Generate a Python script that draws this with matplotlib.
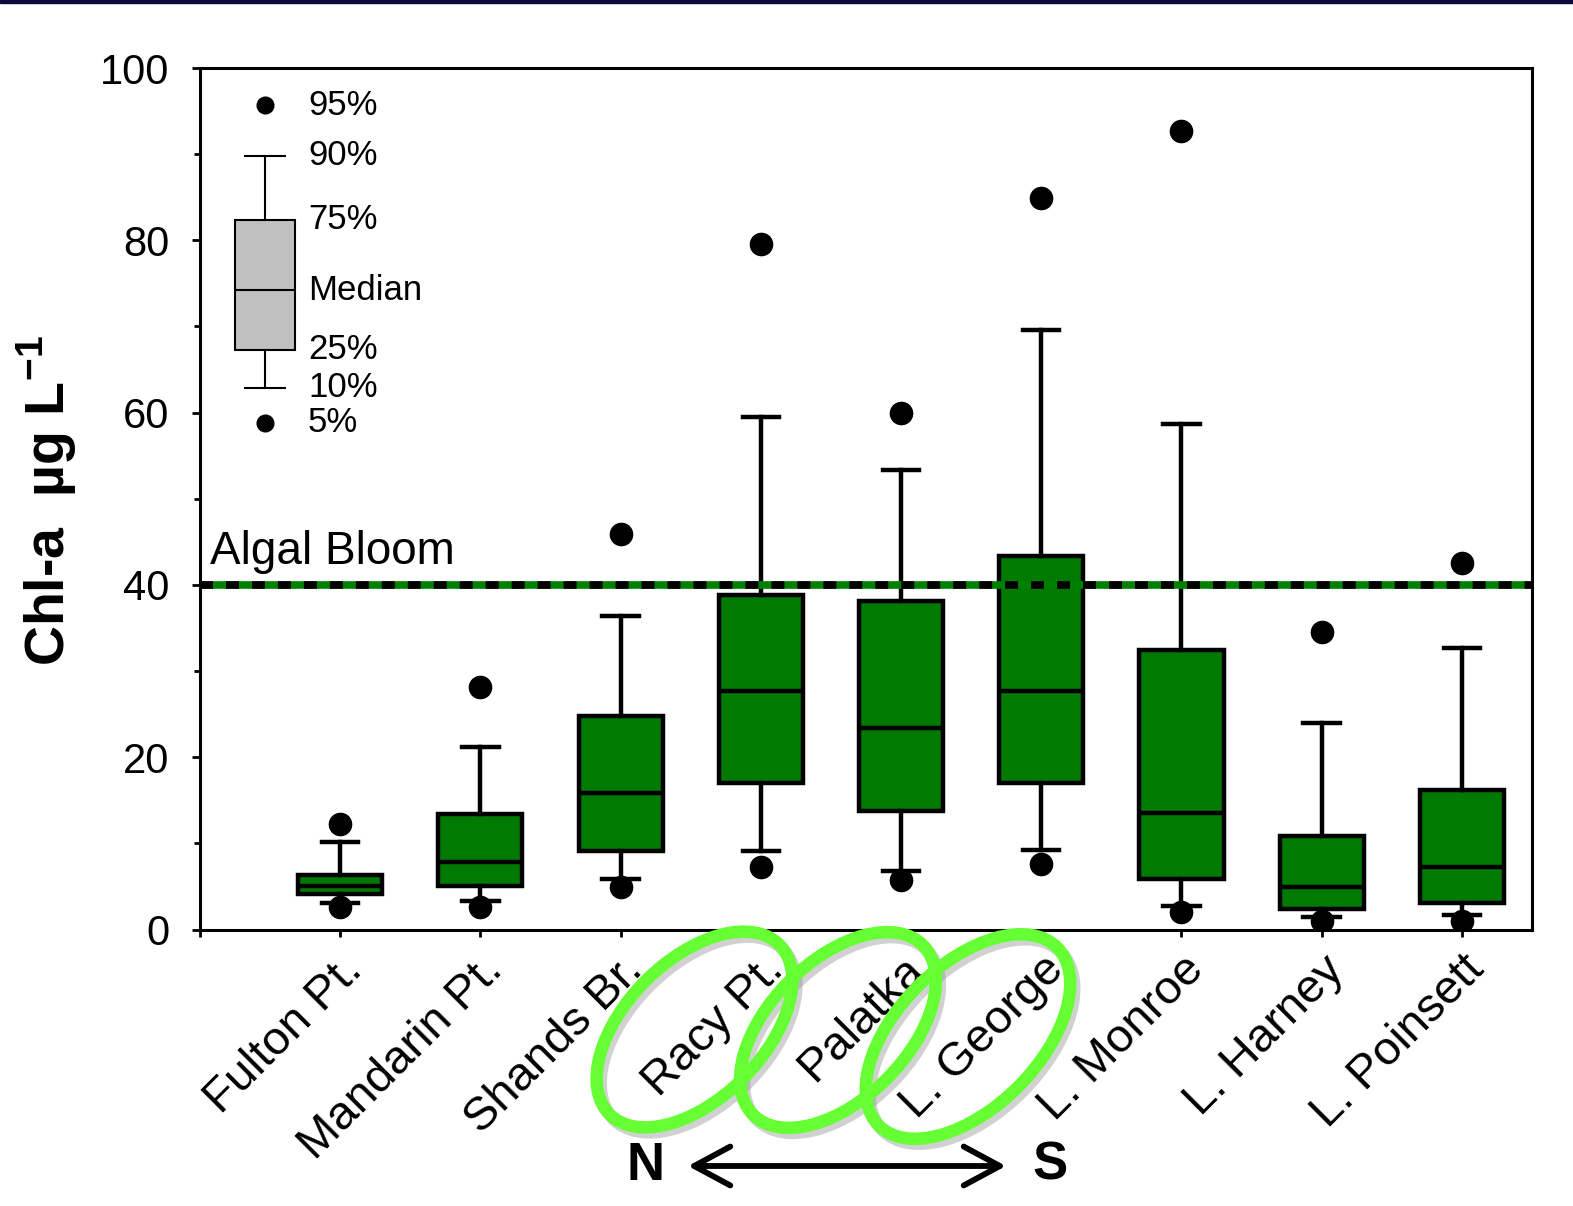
import matplotlib
matplotlib.use('Agg')
import matplotlib.pyplot as plt
import matplotlib.transforms as mtransforms
from matplotlib.patches import Ellipse, Rectangle, FancyArrowPatch
import numpy as np

plt.rcParams['font.family'] = ['Liberation Sans', 'DejaVu Sans']
plt.rcParams['mathtext.fontset'] = 'custom'
plt.rcParams['mathtext.rm'] = 'Liberation Sans'
plt.rcParams['mathtext.bf'] = 'Liberation Sans:bold'

# ---------------- data ----------------
sites = ["Fulton Pt.", "Mandarin Pt.", "Shands Br.", "Racy Pt.", "Palatka",
         "L. George", "L. Monroe", "L. Harney", "L. Poinsett"]
p5 = [2.6, 2.6, 4.9, 7.2, 5.7, 7.6, 2.0, 1.0, 1.0]
p10 = [3.1, 3.3, 5.9, 9.1, 6.8, 9.2, 2.7, 1.5, 1.7]
p25 = [4.1, 5.0, 9.1, 17.0, 13.7, 17.0, 5.9, 2.4, 3.1]
p50 = [5.0, 7.8, 15.8, 27.7, 23.4, 27.7, 13.5, 4.9, 7.2]
p75 = [6.3, 13.4, 24.8, 38.8, 38.1, 43.3, 32.5, 10.8, 16.2]
p90 = [10.1, 21.2, 36.4, 59.5, 53.3, 69.6, 58.7, 24.0, 32.7]
p95 = [12.2, 28.2, 45.9, 79.6, 60.0, 84.9, 92.7, 34.5, 42.5]

legend_labels = ["5%", "10%", "25%", "Median", "75%", "90%", "95%"]
legend_vals = [58.8, 62.9, 67.3, 74.2, 82.4, 89.8, 95.7]

bloom_level = 40
yticks = [0, 20, 40, 60, 80, 100]
highlighted = [3, 4, 5]  # Racy Pt., Palatka, L. George

# ---------------- figure ----------------
W, H = 1573, 1206
fig = plt.figure(figsize=(W / 100, H / 100), dpi=100)
ax = fig.add_axes([200 / W, 1 - 929.5 / H, (1532 - 200) / W, (929.5 - 68) / H])

positions = np.arange(1, len(sites) + 1)
stats = []
for i, s in enumerate(sites):
    stats.append(dict(med=p50[i], q1=p25[i], q3=p75[i], whislo=p10[i],
                      whishi=p90[i], fliers=np.array([p5[i], p95[i]]), label=s))

green = '#007a00'
lw = 3.2
ax.bxp(stats, positions=positions, widths=0.6, capwidths=0.26,
       patch_artist=True, showfliers=True, manage_ticks=False,
       boxprops=dict(facecolor=green, edgecolor='black', linewidth=lw),
       medianprops=dict(color='black', linewidth=lw),
       whiskerprops=dict(color='black', linewidth=lw),
       capprops=dict(color='black', linewidth=lw),
       flierprops=dict(marker='o', markerfacecolor='black',
                       markeredgecolor='black', markersize=16, linestyle='none'))

# legend box
lstat = [dict(med=legend_vals[3], q1=legend_vals[2], q3=legend_vals[4],
              whislo=legend_vals[1], whishi=legend_vals[5],
              fliers=np.array([legend_vals[0], legend_vals[6]]))]
lx = 0.464
ax.bxp(lstat, positions=[lx], widths=0.43, capwidths=0.285,
       patch_artist=True, showfliers=True, manage_ticks=False,
       boxprops=dict(facecolor='#c0c0c0', edgecolor='black', linewidth=1.5),
       medianprops=dict(color='black', linewidth=1.5),
       whiskerprops=dict(color='black', linewidth=1.5),
       capprops=dict(color='black', linewidth=1.5),
       flierprops=dict(marker='o', markerfacecolor='black',
                       markeredgecolor='black', markersize=12, linestyle='none'))
for lab, v in zip(legend_labels, legend_vals):
    ax.text(0.77, v, lab, fontsize=25, va='center', ha='left')

# algal bloom line
ax.axhline(bloom_level, color='#008000', lw=5.5, zorder=6)
ax.axhline(bloom_level, color='black', lw=5.5, ls=(0, (1.7, 1.7)), zorder=7)
ax.text(0.07, 41.3, "Algal Bloom", fontsize=33, va='bottom', ha='left')

ax.set_xlim(0, 9.5)
ax.set_ylim(0, 100)
ax.set_yticks(yticks)
ax.set_yticklabels([str(t) for t in yticks])
ax.set_yticks(np.arange(10, 100, 20), minor=True)
ax.set_xticks(positions)
ax.set_xticks([0], minor=True)
ax.set_xticklabels(sites, rotation=45, ha='right', va='top',
                   rotation_mode='anchor', fontsize=34)
offset = mtransforms.ScaledTranslation(-6 / 100, -3 / 100, fig.dpi_scale_trans)
for lab in ax.get_xticklabels():
    lab.set_transform(lab.get_transform() + offset)
ax.tick_params(axis='y', which='major', direction='out', length=6, width=2,
               labelsize=30, pad=16)
ax.tick_params(axis='y', which='minor', direction='out', length=4, width=2)
ax.tick_params(axis='x', which='both', direction='out', length=5, width=2, pad=8)
for sp in ax.spines.values():
    sp.set_linewidth(2.2)

fig.text(47 / W, 1 - 501 / H, "Chl-a  µg L$^{\\mathbf{-1}}$", rotation=90,
         fontsize=40, fontweight='bold', ha='center', va='center')

# top navy strip
fig.add_artist(Rectangle((0, 1 - 3 / H), 1, 3 / H, transform=fig.transFigure,
                         color='#0a0a3c', zorder=10))

# ellipses around highlighted labels
ell = [(694.5, 1029.5, 240, 138), (838, 1030, 240, 138), (968, 1036.5, 252, 142)]
for cx, cy, ew, eh in ell:
    sh = Ellipse(((cx + 4) / 100, (H - cy - 5) / 100), ew / 100, eh / 100, angle=45,
                 transform=fig.dpi_scale_trans, fill=False, ec='#9a9a9a', lw=9,
                 alpha=0.45, zorder=8)
    fig.add_artist(sh)
for cx, cy, ew, eh in ell:
    e = Ellipse((cx / 100, (H - cy) / 100), ew / 100, eh / 100, angle=45,
                transform=fig.dpi_scale_trans, fill=False, ec='#66ff33', lw=9,
                zorder=9)
    fig.add_artist(e)

# N <-> S arrow
arr = FancyArrowPatch((688 / 100, (H - 1166) / 100), (1006 / 100, (H - 1166) / 100),
                      transform=fig.dpi_scale_trans,
                      arrowstyle='<->,head_length=26,head_width=14',
                      mutation_scale=1, lw=4.2, color='black',
                      shrinkA=0, shrinkB=0, zorder=9)
fig.add_artist(arr)
fig.text(645 / W, 1 - 1166 / H, "N", fontsize=38, fontweight='bold',
         ha='center', va='center')
fig.text(1050 / W, 1 - 1166 / H, "S", fontsize=38, fontweight='bold',
         ha='center', va='center')

fig.savefig('out.png', dpi=100)
